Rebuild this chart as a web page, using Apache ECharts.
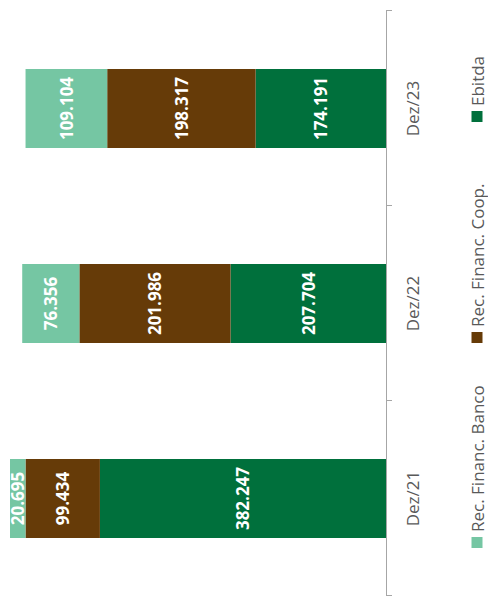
<!DOCTYPE html>
<html>
<head>
<meta charset="utf-8">
<script src="https://cdn.jsdelivr.net/npm/echarts@6/dist/echarts.min.js"></script>
<style>
  html, body { margin: 0; padding: 0; width: 488px; height: 596px; overflow: hidden; background: #fff; }
  /* The column chart is laid out landscape, then turned a quarter turn counter-clockwise */
  #chart {
    position: absolute; left: 0; top: 0;
    width: 596px; height: 488px;
    transform-origin: 0 0;
    transform: translate(0, 596px) rotate(-90deg);
  }
</style>
</head>
<body>
<div id="chart"></div>
<script>
// Periods on the category axis
const categories = ['Dez/21', 'Dez/22', 'Dez/23'];

// Funding sources, stacked from the axis outward
const ebitda = [382247, 207704, 174191];
const recFinancCoop = [99434, 201986, 198317];
const recFinancBanco = [20695, 76356, 109104];

const seriesNames = ['Rec. Financ. Banco', 'Rec. Financ. Coop.', 'Ebitda'];

const COLORS = {
  banco: '#75C6A3',
  coop: '#663B08',
  ebitda: '#00703C'
};
const FONT = "'Open Sans', 'Noto Sans', sans-serif";

// Value axis ends at the tallest stack
const totals = categories.map((_, i) => ebitda[i] + recFinancCoop[i] + recFinancBanco[i]);
const valueMax = Math.max(...totals);

// Brazilian thousands separator
const fmt = v => String(v).replace(/\B(?=(\d{3})+(?!\d))/g, '.');

const chart = echarts.init(document.getElementById('chart'), null, { renderer: 'svg' });

const labelStyle = {
  show: true,
  position: 'inside',
  color: '#ffffff',
  fontFamily: FONT,
  fontWeight: 'bold',
  fontSize: 17,
  formatter: p => fmt(p.value)
};

function legendFor(name, left) {
  return {
    data: [name],
    left: left,
    top: 468,
    padding: 0,
    itemWidth: 11,
    itemHeight: 11,
    icon: 'rect',
    textStyle: { fontFamily: FONT, fontSize: 17, color: '#595959', lineHeight: 18 }
  };
}

chart.setOption({
  animation: false,
  backgroundColor: '#ffffff',
  legend: [
    legendFor(seriesNames[0], 48),
    legendFor(seriesNames[1], 253),
    legendFor(seriesNames[2], 474)
  ],
  grid: { left: -3, right: 11, top: 10, bottom: 102, containLabel: false },
  xAxis: {
    type: 'category',
    data: categories,
    axisLine: { show: true, lineStyle: { color: '#a6a6a6', width: 1 } },
    axisTick: { show: true, length: 6, lineStyle: { color: '#a6a6a6' } },
    axisLabel: {
      margin: 18,
      color: '#595959',
      fontFamily: FONT,
      fontSize: 17,
      lineHeight: 17
    }
  },
  yAxis: {
    type: 'value',
    min: 0,
    max: valueMax,
    show: false,
    splitLine: { show: false }
  },
  series: [
    {
      name: seriesNames[2],
      type: 'bar',
      stack: 'funding',
      barWidth: 79,
      data: ebitda,
      itemStyle: { color: COLORS.ebitda },
      label: labelStyle
    },
    {
      name: seriesNames[1],
      type: 'bar',
      stack: 'funding',
      barWidth: 79,
      data: recFinancCoop,
      itemStyle: { color: COLORS.coop },
      label: labelStyle
    },
    {
      name: seriesNames[0],
      type: 'bar',
      stack: 'funding',
      barWidth: 79,
      data: recFinancBanco,
      itemStyle: { color: COLORS.banco },
      label: labelStyle
    }
  ]
});
</script>
</body>
</html>
